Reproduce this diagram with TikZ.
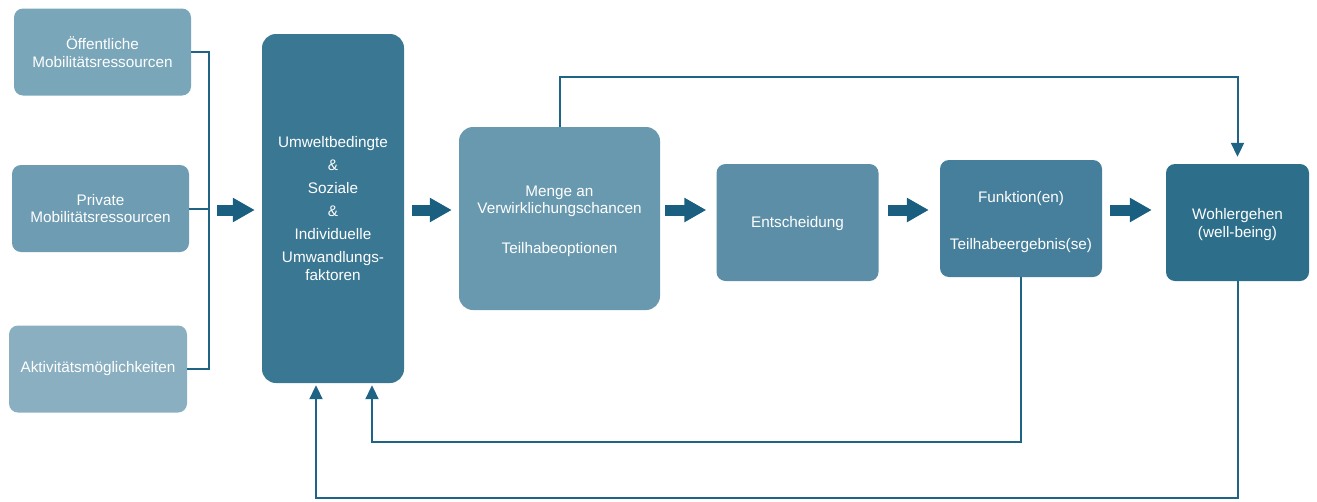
\documentclass[tikz,border=0pt]{standalone}
\usepackage{fontspec}
\setmainfont{Liberation Sans}
\usetikzlibrary{arrows.meta,calc}
\definecolor{cA}{HTML}{7AA6BA}
\definecolor{cB}{HTML}{6E9CB2}
\definecolor{cC}{HTML}{8AAFC0}
\definecolor{cU}{HTML}{3A7793}
\definecolor{cM}{HTML}{6899AF}
\definecolor{cE}{HTML}{5C8FA7}
\definecolor{cF}{HTML}{467F9B}
\definecolor{cW}{HTML}{2D6F8B}
\definecolor{cLine}{HTML}{1F6385}
\definecolor{cBlk}{HTML}{1A5F80}
\tikzset{
  txt/.style={inner sep=0pt, align=center, text=white, font=\fontsize{15.3}{17.5}\selectfont},
  box/.style={txt, rectangle, rounded corners=9pt},
  bigbox/.style={box, rounded corners=14pt},
  conn/.style={draw=cLine, line width=2pt},
  conntip/.style={conn, -{Triangle[length=14pt,width=13pt]}},
  blk/.style={draw=cBlk, line width=11pt, -{Triangle[length=22pt,width=23pt]}}
}
\begin{document}
\begin{tikzpicture}[x=1pt,y=-1pt]
\useasboundingbox (0,0) rectangle (1317,501);
% left boxes
\node[box, fill=cA, minimum width=177pt, minimum height=87pt] (b1) at (102.5,52) {Öffentliche\\Mobilitätsressourcen};
\node[box, fill=cB, minimum width=177pt, minimum height=87pt] (b2) at (100.5,208.5) {Private\\Mobilitätsressourcen};
\node[box, fill=cC, minimum width=178pt, minimum height=87pt] (b3) at (98,369) {Aktivitätsmöglichkeiten};
% main chain
\node[bigbox, fill=cU, minimum width=142pt, minimum height=349pt] (u) at (333,208.5)
  {Umweltbedingte\\[5.5pt]\&\\[5.5pt]Soziale\\[5.5pt]\&\\[5.5pt]Individuelle\\[6pt]Umwandlungs-\\faktoren};
\node[bigbox, fill=cM, minimum width=201pt, minimum height=183pt] (m) at (559.5,218.5) {};
\node[txt] (mt) at ([yshift=-2.5pt]m.center) {Menge an\\Verwirklichungschancen\\[22pt]Teilhabeoptionen};
\node[box, fill=cE, minimum width=162pt, minimum height=117pt] (e) at (797.5,222.5) {};
\node[txt] (et) at ([yshift=-1.5pt]e.center) {Entscheidung};
\node[box, fill=cF, minimum width=162pt, minimum height=117pt] (f) at (1021,218.5) {};
\node[txt] (ft) at ([yshift=-3.5pt]f.center) {Funktion(en)\\[29pt]Teilhabeergebnis(se)};
\node[box, fill=cW, minimum width=143pt, minimum height=117pt] (w) at (1237.5,222.5) {};
\node[txt] (wt) at ([yshift=-2pt]w.center) {Wohlergehen\\(well-being)};
% helper coordinates
\coordinate (bx) at (209,0);
\coordinate (ya) at (0,210);
% bracket
\draw[conn] (b1.east) -- (b1.east -| bx) -- (b3.east -| bx) -- (b3.east);
\draw[conn] (b2.east) -- (b2.east -| bx);
% block arrows
\draw[blk] ($(bx|-ya)+(8,0)$) -- ($(u.west|-ya)+(-7,0)$);
\draw[blk] ($(u.east|-ya)+(8,0)$) -- ($(m.west|-ya)+(-7,0)$);
\draw[blk] ($(m.east|-ya)+(5,0)$) -- ($(e.west|-ya)+(-10,0)$);
\draw[blk] ($(e.east|-ya)+(9,0)$) -- ($(f.west|-ya)+(-11,0)$);
\draw[blk] ($(f.east|-ya)+(8,0)$) -- ($(w.west|-ya)+(-14,0)$);
% feedback loops
\draw[conntip] (m.north) -- ++(0,-50) -| ($(w.north)+(0,-7)$);
\draw[conntip] (f.south) -- ++(0,165) -| ($(u.south)+(39,2)$);
\draw[conntip] (w.south) -- ++(0,217) -| ($(u.south)+(-17,2)$);
\end{tikzpicture}
\end{document}
